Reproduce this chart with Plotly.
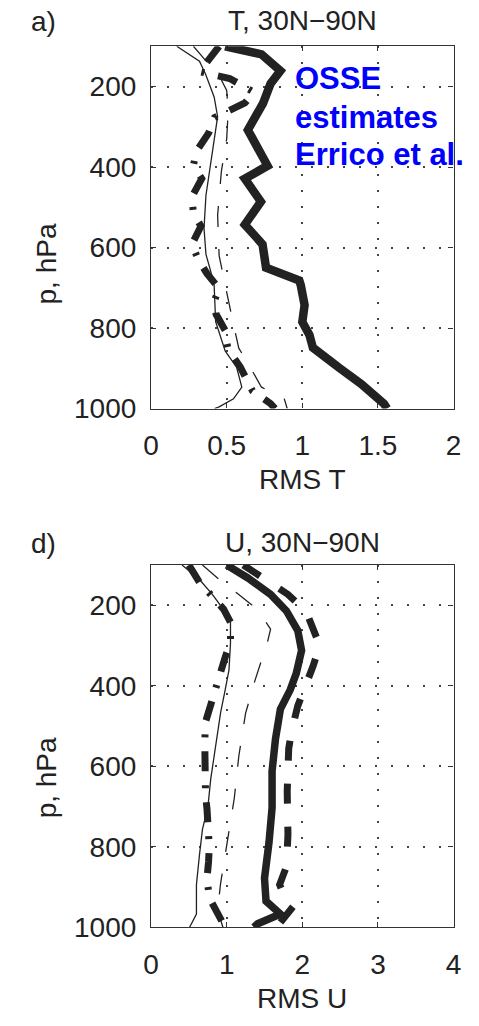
import plotly.graph_objects as go

W, H = 479, 1026

# ---------------- data: panel a) T, 30N-90N ----------------
T_thick_solid_p = [100, 120, 161, 193, 242, 308, 397, 429, 486, 543, 592, 650, 682, 694, 743, 785, 817, 849, 898, 939, 988, 1000]
T_thick_solid_x = [0.49, 0.73, 0.855, 0.79, 0.74, 0.64, 0.77, 0.62, 0.726, 0.62, 0.737, 0.76, 0.98, 0.99, 1.015, 1.0, 1.047, 1.07, 1.24, 1.39, 1.54, 1.56]

T_thick_dashdot_p = [100, 135, 163, 180, 200, 214, 241, 260, 277, 316, 361, 396, 429, 474, 515, 547, 592, 628, 665, 702, 731, 766, 806, 836, 853, 897, 927, 956, 988, 1000]
T_thick_dashdot_x = [0.45, 0.385, 0.32, 0.52, 0.62, 0.68, 0.62, 0.50, 0.42, 0.38, 0.30, 0.28, 0.335, 0.27, 0.28, 0.33, 0.27, 0.31, 0.37, 0.45, 0.42, 0.43, 0.49, 0.50, 0.51, 0.59, 0.63, 0.67, 0.79, 0.82]

T_thin_solid_p = [100, 137, 169, 226, 275, 332, 397, 470, 552, 617, 660, 694, 784, 857, 898, 947, 976, 996, 1000]
T_thin_solid_x = [0.17, 0.32, 0.36, 0.417, 0.44, 0.417, 0.39, 0.363, 0.35, 0.363, 0.395, 0.417, 0.427, 0.49, 0.566, 0.60, 0.545, 0.45, 0.42]

T_thin_dashed_p = [100, 135, 165, 210, 260, 330, 410, 520, 620, 680, 720, 800, 850, 907, 947, 975, 1000]
T_thin_dashed_x = [0.28, 0.36, 0.44, 0.50, 0.51, 0.50, 0.465, 0.44, 0.45, 0.48, 0.505, 0.55, 0.58, 0.67, 0.73, 0.88, 0.90]

# ---------------- data: panel d) U, 30N-90N ----------------
U_thick_solid_p = [100, 132, 173, 214, 263, 312, 369, 410, 458, 532, 612, 703, 788, 878, 935, 967, 991, 1000]
U_thick_solid_x = [1.0, 1.28, 1.58, 1.79, 1.94, 1.99, 1.92, 1.84, 1.71, 1.645, 1.60, 1.60, 1.56, 1.50, 1.52, 1.71, 1.41, 1.36]

U_thick_dashed_p = [100, 130, 173, 215, 252, 300, 352, 400, 450, 510, 556, 662, 770, 849, 894, 930, 948, 988, 1000]
U_thick_dashed_x = [1.22, 1.45, 1.81, 2.05, 2.13, 2.23, 2.14, 2.03, 1.94, 1.86, 1.82, 1.80, 1.81, 1.79, 1.70, 1.78, 1.88, 1.71, 1.65]

U_thick_dashdot_p = [100, 143, 180, 210, 242, 291, 329, 365, 410, 453, 490, 539, 580, 620, 670, 707, 747, 801, 837, 878, 927, 957, 985, 1000]
U_thick_dashdot_x = [0.50, 0.64, 0.82, 0.96, 1.05, 1.05, 0.98, 0.92, 0.83, 0.76, 0.72, 0.71, 0.71, 0.71, 0.72, 0.74, 0.76, 0.77, 0.76, 0.74, 0.77, 0.86, 0.92, 0.98]

U_thin_solid_p = [100, 136, 173, 206, 234, 295, 361, 410, 466, 548, 630, 703, 756, 820, 894, 967, 1000]
U_thin_solid_x = [0.41, 0.64, 0.81, 0.94, 1.05, 1.05, 1.03, 0.98, 0.92, 0.855, 0.79, 0.75, 0.68, 0.64, 0.60, 0.60, 0.51]

U_thin_dashed_p = [100, 136, 169, 202, 242, 259, 291, 343, 389, 468, 575, 680, 764, 813, 890, 957, 1000]
U_thin_dashed_x = [0.68, 0.90, 1.13, 1.35, 1.52, 1.58, 1.54, 1.45, 1.37, 1.25, 1.16, 1.10, 1.03, 0.98, 0.92, 0.88, 0.95]

T_xticks = [0, 0.5, 1, 1.5, 2]
T_xticklabels = ["0", "0.5", "1", "1.5", "2"]
U_xticks = [0, 1, 2, 3, 4]
U_xticklabels = ["0", "1", "2", "3", "4"]
p_ticks = [200, 400, 600, 800, 1000]
p_ticklabels = ["200", "400", "600", "800", "1000"]

# ---------------- styling ----------------
INK = "#222222"
FONT = "Liberation Sans, Arial, Helvetica, sans-serif"
FS = 28

def px_x(x):
    return x / W

def px_y(y):
    return 1 - y / H

fig = go.Figure()

def add_line(xs, ps, axis, width, dash):
    xa, ya = axis
    fig.add_trace(go.Scatter(x=xs, y=ps, mode="lines", xaxis=xa, yaxis=ya,
                             line=dict(color=INK, width=width, dash=dash),
                             showlegend=False, hoverinfo="skip"))

TH_DD = "20px,14px,3px,14px"
TH_DASH = "20px,23px"
TN_DASH = "21px,22px"

# panel a
add_line(T_thin_solid_x, T_thin_solid_p, ("x", "y"), 1.3, "solid")
add_line(T_thin_dashed_x, T_thin_dashed_p, ("x", "y"), 1.3, TN_DASH)
add_line(T_thick_dashdot_x, T_thick_dashdot_p, ("x", "y"), 7, TH_DD)
add_line(T_thick_solid_x, T_thick_solid_p, ("x", "y"), 8.5, "solid")

# panel d
add_line(U_thin_solid_x, U_thin_solid_p, ("x2", "y2"), 1.3, "solid")
add_line(U_thin_dashed_x, U_thin_dashed_p, ("x2", "y2"), 1.3, TN_DASH)
add_line(U_thick_dashdot_x, U_thick_dashdot_p, ("x2", "y2"), 7, TH_DD)
add_line(U_thick_dashed_x, U_thick_dashed_p, ("x2", "y2"), 7, TH_DASH)
add_line(U_thick_solid_x, U_thick_solid_p, ("x2", "y2"), 7.5, "solid")

X0, X1 = 148, 461
TA_top, TA_bot = 47, 415
UA_top, UA_bot = 574, 942

axis_common = dict(
    showline=True, linecolor="#333333", linewidth=1.3, mirror="ticks",
    ticks="inside", ticklen=5, tickcolor="#333333", tickwidth=1,
    showgrid=True, gridcolor="#444444", gridwidth=1.6, griddash="2px,14px",
    zeroline=False, tickfont=dict(family=FONT, size=FS, color=INK),
)

fig.update_layout(
    width=W, height=H, margin=dict(l=0, r=0, t=0, b=0),
    paper_bgcolor="white", plot_bgcolor="white",
    xaxis=dict(domain=[px_x(X0), px_x(X1)], range=[0, 2], anchor="y",
               tickvals=T_xticks, ticktext=T_xticklabels, ticklabelstandoff=12, **axis_common),
    yaxis=dict(domain=[px_y(TA_bot), px_y(TA_top)], range=[1000, 100], anchor="x",
               tickvals=p_ticks, ticktext=p_ticklabels, ticklabelstandoff=8, **axis_common),
    xaxis2=dict(domain=[px_x(X0), px_x(X1)], range=[0, 4], anchor="y2",
                tickvals=U_xticks, ticktext=U_xticklabels, ticklabelstandoff=12, **axis_common),
    yaxis2=dict(domain=[px_y(UA_bot), px_y(UA_top)], range=[1000, 100], anchor="x2",
                tickvals=p_ticks, ticktext=p_ticklabels, ticklabelstandoff=8, **axis_common),
)

def txt(text, x, y, xanchor="center", yanchor="middle", size=FS, color=INK, bold=False, angle=0):
    fig.add_annotation(text=("<b>%s</b>" % text) if bold else text,
                       x=px_x(x), y=px_y(y), xref="paper", yref="paper",
                       xanchor=xanchor, yanchor=yanchor, showarrow=False, textangle=angle,
                       font=dict(family=FONT, size=size, color=color), align="left")

xc = (X0 + X1) / 2
txt("a)", 22, 22, xanchor="left")
txt("T, 30N\u221290N", xc, 21)
txt("RMS T", xc, 487)
txt("p, hPa", 40, 268, angle=-90)

txt("d)", 22, 552, xanchor="left")
txt("U, 30N\u221290N", xc, 551)
txt("RMS U", xc, 1014)
txt("p, hPa", 40, 790, angle=-90)

txt("OSSE", 295, 80, xanchor="left", size=31, color="#0000ff", bold=True)
txt("estimates", 295, 119, xanchor="left", size=31, color="#0000ff", bold=True)
txt("Errico et al.", 295, 157, xanchor="left", size=31, color="#0000ff", bold=True)

fig.write_html("out.html",
               post_script="document.body.style.margin='0';document.body.style.overflow='hidden';")
